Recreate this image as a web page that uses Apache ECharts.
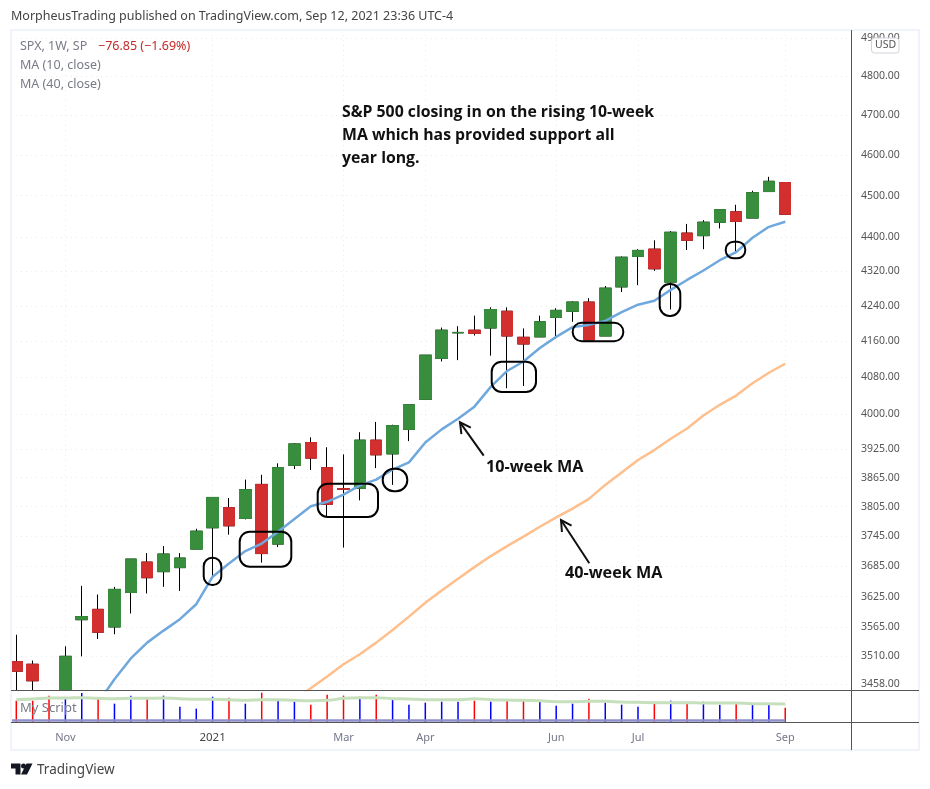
<!DOCTYPE html>
<html>
<head>
<meta charset="utf-8">
<title>SPX, 1W</title>
<script src="https://cdn.jsdelivr.net/npm/echarts@6/dist/echarts.min.js"></script>
<style>
    html, body { margin: 0; padding: 0; background: #fff; }
    #chart { width: 930px; height: 789px; }
</style>
</head>
<body>
<div id="chart"></div>
<script>
// Chart data
// ------------------------------

var weeks = ['2020-10-12','2020-10-19','2020-10-26','2020-11-02','2020-11-09','2020-11-16','2020-11-23','2020-11-30',
    '2020-12-07','2020-12-14','2020-12-21','2020-12-28','2021-01-04','2021-01-11','2021-01-18','2021-01-25',
    '2021-02-01','2021-02-08','2021-02-15','2021-02-22','2021-03-01','2021-03-08','2021-03-15','2021-03-22',
    '2021-03-29','2021-04-05','2021-04-12','2021-04-19','2021-04-26','2021-05-03','2021-05-10','2021-05-17',
    '2021-05-24','2021-05-31','2021-06-07','2021-06-14','2021-06-21','2021-06-28','2021-07-05','2021-07-12',
    '2021-07-19','2021-07-26','2021-08-02','2021-08-09','2021-08-16','2021-08-23','2021-08-30','2021-09-06'];

var opens = [3500,3495,3441,3296,3580,3600,3566,3633,3693,3674,3682,3719,3762,3803,3781,3851,
    3729,3891,3939,3886,3842,3843,3944,3915,3967,4032,4122,4179,4185,4190,4228,4169,
    4170,4214,4228,4249,4172,4284,4355,4372,4295,4410,4404,4436,4461,4446,4510,4532];
var closes = [3482,3464,3269,3510,3586,3556,3639,3699,3662,3709,3701,3755,3824,3766,3840,3710,
    3886,3936,3906,3810,3841,3944,3913,3975,4020,4129,4185,4180,4178,4232,4172,4154,
    4204,4230,4249,4163,4281,4353,4369,4326,4412,4393,4436,4466,4438,4507,4535,4455];
var highs = [3551,3502,3441,3529,3646,3629,3644,3699,3711,3725,3711,3760,3825,3823,3861,3871,
    3895,3938,3950,3929,3914,3961,3983,3977,4020,4129,4191,4194,4218,4237,4237,4189,
    4218,4235,4251,4258,4286,4355,4372,4393,4415,4432,4441,4466,4478,4512,4546,4532];
var lows = [3440,3382,3233,3279,3510,3543,3552,3592,3631,3644,3636,3719,3663,3748,3779,3692,
    3723,3883,3881,3785,3722,3818,3885,3850,3942,4032,4115,4118,4173,4128,4056,4061,
    4170,4166,4204,4163,4172,4272,4288,4321,4232,4370,4372,4421,4365,4446,4510,4455];

var ma10 = [null,null,null,null,null,3423,3467,3506,3536,3559,3581,3610,3664,3690,3715,3730,
    3754,3780,3806,3815,3830,3849,3861,3882,3897,3939,3967,3990,4016,4059,4094,4115,
    4145,4170,4192,4197,4206,4226,4243,4252,4277,4300,4322,4346,4365,4399,4425,4437];
var ma40 = [null,null,null,null,null,null,null,null,null,null,null,null,null,null,null,null,
    null,3429,3450,3472,3495,3514,3536,3560,3586,3613,3637,3660,3683,3705,3725,3744,
    3764,3783,3801,3821,3850,3876,3902,3923,3947,3969,3997,4020,4040,4067,4090,4110];

// "My Script" pane
var scriptBars = [6.4,6.4,7.9,7.3,8.7,7.3,5.5,7.9,7.0,7.9,4.6,4.0,7.6,7.3,5.5,8.8,
    6.7,6.1,5.2,8.2,7.9,7.6,8.2,7.0,5.2,5.8,6.1,6.1,6.4,6.1,6.4,6.4,
    6.4,4.9,5.5,7.0,5.8,5.2,4.6,5.5,6.4,5.8,6.1,5.2,5.5,5.2,5.2,4.3];
var scriptAvg = [6.7,6.9,7.2,7.2,7.3,7.1,7.0,7.1,7.1,7.2,7.0,6.8,6.8,6.7,6.5,6.7,
    6.7,6.5,6.4,6.5,7.1,7.3,7.3,7.0,6.9,6.7,6.7,6.7,7.0,6.7,6.6,6.5,
    6.4,6.1,6.1,6.2,6.2,6.0,5.9,5.8,5.8,5.8,5.7,5.7,5.7,5.5,5.5,5.4];
var scriptLevel = 0.5;

// Axis ticks
var priceTicks = [3458,3510,3565,3625,3685,3745,3805,3865,3925,4000,4080,4160,4240,4320,4400,4500,4600,4700,4800,4900];
var dateTicks = ['2020-11-02','2021-01-04','2021-03-01','2021-04-05','2021-05-31','2021-07-05','2021-09-06'];
var dateLabels = ['Nov','2021','Mar','Apr','Jun','Jul','Sep'];


// Setup chart
// ------------------------------

var chart = echarts.init(document.getElementById('chart'));

var uiFont = '"Noto Sans", sans-serif';
var noteFont = 'bold 15.8px "Open Sans", sans-serif';
var tagFont = 'bold 16.2px "Open Sans", sans-serif';
var gridDots = { color: '#e9ebf2', type: [1, 4], width: 1 };
var paneLine = { stroke: '#555', lineWidth: 1 };
var frameLine = { fill: '#f0f3fa' };

// The x axis counts weeks, the pane runs a little past both ends of the data
var xMin = -0.324;
var xMax = 51.02;
var priceMin = 3446.8;
var priceMax = 4920.6;
var weekTicks = dateTicks.map(function(d) { return weeks.indexOf(d); });

// Candlesticks are not cut at the pane edge, so stop them at the axis floor.
// A candle wholly below the floor stays as it is and the library drops it.
function floorPrice(value, i) {
    return highs[i] < priceMin ? value : Math.max(value, priceMin);
}

var candleWicks = weeks.map(function(w, i) {
    return [i, floorPrice(opens[i], i), floorPrice(closes[i], i), floorPrice(lows[i], i), floorPrice(highs[i], i)];
});
var candleBodies = weeks.map(function(w, i) {
    var open = floorPrice(opens[i], i), close = floorPrice(closes[i], i);
    return [i, open, close, Math.min(open, close), Math.max(open, close)];
});

function pair(values) {
    return weeks.map(function(w, i) { return [i, values[i]]; });
}

// Hand drawn rings around the touches of the 10-week MA
function ring(x1, y1, x2, y2, r) {
    return {
        type: 'rect', z: 100,
        shape: { x: x1, y: y1, width: x2 - x1, height: y2 - y1, r: r },
        style: { fill: 'transparent', stroke: '#000', lineWidth: 2 }
    };
}

// Line with an open arrow head at its end
function arrow(x1, y1, x2, y2) {
    var a = Math.atan2(y2 - y1, x2 - x1), len = 12, spread = 0.5;
    return [{
        type: 'line', z: 100,
        shape: { x1: x1, y1: y1, x2: x2, y2: y2 },
        style: { stroke: '#111', lineWidth: 2 }
    }, {
        type: 'polyline', z: 100,
        shape: { points: [
            [x2 - len * Math.cos(a - spread), y2 - len * Math.sin(a - spread)],
            [x2, y2],
            [x2 - len * Math.cos(a + spread), y2 - len * Math.sin(a + spread)]
        ] },
        style: { fill: 'none', stroke: '#111', lineWidth: 2 }
    }];
}

function label(x, y, text, font, fill) {
    return { type: 'text', z: 100, x: x, y: y, style: { text: text, font: font, fill: fill, textVerticalAlign: 'middle' } };
}

var graphics = [
    // Frame
    { type: 'rect', z: 90, shape: { x: 10, y: 29, width: 910, height: 2 }, style: frameLine },
    { type: 'rect', z: 90, shape: { x: 10, y: 749, width: 910, height: 2 }, style: frameLine },
    { type: 'rect', z: 90, shape: { x: 10, y: 29, width: 2, height: 722 }, style: frameLine },
    { type: 'rect', z: 90, shape: { x: 918, y: 29, width: 2, height: 722 }, style: frameLine },
    { type: 'line', z: 95, shape: { x1: 11, y1: 690.5, x2: 919, y2: 690.5 }, style: paneLine },
    { type: 'line', z: 95, shape: { x1: 11, y1: 722.5, x2: 919, y2: 722.5 }, style: paneLine },
    { type: 'line', z: 95, shape: { x1: 851.5, y1: 30, x2: 851.5, y2: 750 }, style: paneLine },

    // Header and legend
    label(11, 16, 'MorpheusTrading published on TradingView.com, Sep 12, 2021 23:36 UTC-4', '12.5px ' + uiFont, '#444'),
    label(20, 46, 'SPX, 1W, SP', '12.5px ' + uiFont, '#787b86'),
    label(98, 46, '\u221276.85 (\u22121.69%)', '12.5px ' + uiFont, '#c62828'),
    label(20, 65, 'MA (10, close)', '12.5px ' + uiFont, '#787b86'),
    label(20, 84, 'MA (40, close)', '12.5px ' + uiFont, '#787b86'),
    label(20, 708, 'My Script', '13px ' + uiFont, '#787b86'),

    // Annotations
    label(342, 112, 'S&P 500 closing in on the rising 10-week', noteFont, '#111'),
    label(342, 135, 'MA which has provided support all', noteFont, '#111'),
    label(342, 158, 'year long.', noteFont, '#111'),
    label(486, 467, '10-week MA', tagFont, '#111'),
    label(565, 573, '40-week MA', tagFont, '#111'),
    ring(203.7, 557.7, 221.3, 585, 8.5),
    ring(239.7, 531.7, 291.3, 566.7, 10),
    ring(317.7, 483.7, 378, 517, 10),
    ring(382.7, 468.7, 407.3, 491.3, 11),
    ring(491.7, 361.7, 536, 392, 10),
    ring(572.7, 322.7, 623.3, 341.3, 9),
    ring(659.7, 284, 680.3, 316, 10),
    ring(725.7, 241.7, 745.3, 258.3, 8),

    // Currency badge
    {
        type: 'rect', z: 100,
        shape: { x: 871.5, y: 38, width: 27.5, height: 15, r: 3 },
        style: { fill: '#fff', stroke: '#d1d4dc', lineWidth: 1 }
    },
    label(875, 45.5, 'USD', '10.5px ' + uiFont, '#555'),

    // Footer logo
    {
        type: 'polygon', z: 100,
        shape: { points: [[11, 763.5], [20.5, 763.5], [20.5, 774.5], [15.5, 774.5], [15.5, 768.5], [11, 768.5]] },
        style: { fill: '#131722' }
    },
    { type: 'circle', z: 100, shape: { cx: 23.5, cy: 766, r: 2.5 }, style: { fill: '#131722' } },
    {
        type: 'polygon', z: 100,
        shape: { points: [[32.5, 763.5], [27, 774.5], [21, 774.5], [26.5, 763.5]] },
        style: { fill: '#131722' }
    },
    label(37, 770, 'TradingView', '13.5px ' + uiFont, '#444')
].concat(arrow(483.7, 455.7, 460, 422.3), arrow(589.3, 563.3, 561, 520));


// Options
// ------------------------------

chart.setOption({
    animation: false,
    backgroundColor: '#fff',
    textStyle: { fontFamily: uiFont },
    graphic: graphics,

    grid: [
        { left: 11, right: 79, top: 30, height: 660 },
        { left: 11, right: 79, top: 690, height: 32 }
    ],

    xAxis: [{
        type: 'value', gridIndex: 0, min: xMin, max: xMax,
        axisLine: { show: false },
        axisTick: { show: false, customValues: weekTicks },
        axisLabel: { show: false },
        splitLine: { show: true, lineStyle: gridDots }
    }, {
        type: 'value', gridIndex: 1, min: xMin, max: xMax,
        axisLine: { show: false },
        axisTick: { show: false, customValues: weekTicks },
        axisLabel: {
            customValues: weekTicks,
            margin: 10,
            color: '#74778a',
            fontSize: 11,
            formatter: function(value) {
                var text = dateLabels[weekTicks.indexOf(value)];
                return text === '2021' ? '{year|' + text + '}' : text;
            },
            rich: { year: { color: '#444', fontSize: 11.5 } }
        },
        splitLine: { show: true, lineStyle: gridDots }
    }],

    yAxis: [{
        type: 'log', gridIndex: 0, position: 'right',
        min: priceMin, max: priceMax,
        axisLine: { show: false },
        axisTick: { show: false, customValues: priceTicks },
        axisLabel: {
            customValues: priceTicks,
            margin: 10,
            padding: [4, 0, 0, 0],
            color: '#555',
            fontSize: 10.5,
            formatter: function(value) { return Number(value).toFixed(2); }
        },
        splitLine: { show: true, lineStyle: gridDots }
    }, {
        type: 'value', gridIndex: 1, position: 'right',
        min: 0, max: 9.6,
        axisLine: { show: false },
        axisTick: { show: false },
        axisLabel: { show: false },
        splitLine: { show: false }
    }],

    series: [{
        // Black wicks
        type: 'candlestick', xAxisIndex: 0, yAxisIndex: 0,
        barWidth: 12,
        encode: { x: 0, y: [1, 2, 3, 4] },
        itemStyle: { color: '#000', color0: '#000', borderColor: '#000', borderColor0: '#000', borderWidth: 1 },
        data: candleWicks
    }, {
        // Coloured bodies on top
        type: 'candlestick', xAxisIndex: 0, yAxisIndex: 0,
        barWidth: 12,
        encode: { x: 0, y: [1, 2, 3, 4] },
        itemStyle: { color: '#388e3c', color0: '#d32f2f', borderColor: '#388e3c', borderColor0: '#d32f2f', borderWidth: 1 },
        data: candleBodies
    }, {
        name: 'MA (10, close)',
        type: 'line', xAxisIndex: 0, yAxisIndex: 0,
        showSymbol: false,
        lineStyle: { color: '#6fa8dc', width: 2.5 },
        data: pair(ma10)
    }, {
        name: 'MA (40, close)',
        type: 'line', xAxisIndex: 0, yAxisIndex: 0,
        showSymbol: false,
        lineStyle: { color: '#ffbf8c', width: 2.5 },
        data: pair(ma40)
    }, {
        name: 'My Script',
        type: 'bar', xAxisIndex: 1, yAxisIndex: 1,
        barWidth: 1.5,
        itemStyle: {
            color: function(params) {
                return closes[params.dataIndex] < opens[params.dataIndex] ? '#ff0000' : '#0000ff';
            }
        },
        data: pair(scriptBars),
        markLine: {
            silent: true,
            symbol: 'none',
            label: { show: false },
            lineStyle: { color: '#8f8fcb', width: 2.5, type: 'solid' },
            data: [[{ coord: [xMin, scriptLevel] }, { coord: [47, scriptLevel] }]]
        }
    }, {
        name: 'My Script average',
        type: 'line', xAxisIndex: 1, yAxisIndex: 1,
        smooth: true,
        showSymbol: false,
        lineStyle: { color: '#c6e0bc', width: 3 },
        data: pair(scriptAvg)
    }]
});
</script>
</body>
</html>
